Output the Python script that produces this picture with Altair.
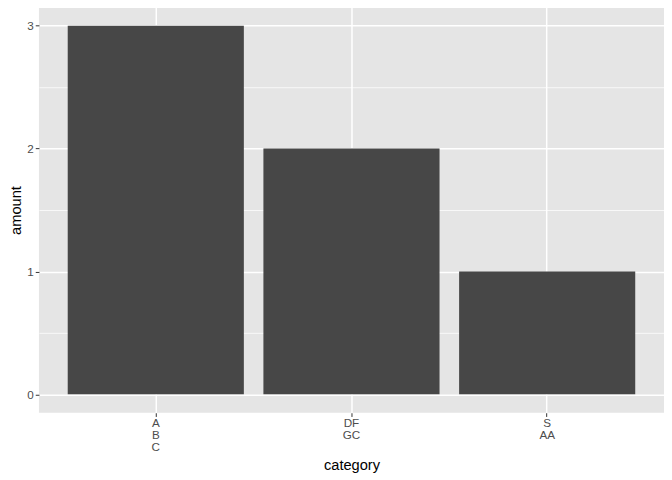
import altair as alt
import pandas as pd

categories = ["A\nB\nC", "DF\nGC", "S\nAA"]
amounts = [3, 2, 1]
y_ticks = [0, 0.5, 1, 1.5, 2, 2.5, 3]

df = pd.DataFrame({"category": categories, "amount": amounts})

FONT = "Liberation Sans"

chart = alt.Chart(df).mark_bar(color="#474747").encode(
    x=alt.X(
        "category:N",
        sort=categories,
        title="category",
        scale=alt.Scale(paddingInner=0.1, paddingOuter=0.147),
        axis=alt.Axis(
            labelAngle=0,
            labelExpr="split(datum.label, '\\n')",
            labelLineHeight=12,
            labelBaseline="top",
            labelPadding=1,
            labelFontSize=11.7,
            labelColor="#4D4D4D",
            labelFont=FONT,
            bandPosition=0.5,
            grid=True,
            gridColor="white",
            gridWidth=1.5,
            domain=False,
            tickColor="#333333",
            tickSize=3.7,
            tickWidth=1,
            titleFont=FONT,
            titleFontSize=14.67,
            titleFontWeight="normal",
            titleColor="black",
            titlePadding=4,
        ),
    ),
    y=alt.Y(
        "amount:Q",
        title="amount",
        scale=alt.Scale(domain=[-0.15, 3.15], nice=False, zero=False),
        axis=alt.Axis(
            values=y_ticks,
            labelExpr="datum.value % 1 === 0 ? format(datum.value, 'd') : ''",
            labelPadding=2,
            labelFontSize=11.7,
            labelColor="#4D4D4D",
            labelFont=FONT,
            grid=True,
            gridColor="white",
            gridWidth={"condition": {"test": "datum.value % 1 === 0", "value": 1.5}, "value": 0.75},
            domain=False,
            tickColor="#333333",
            tickSize={"condition": {"test": "datum.value % 1 === 0", "value": 3.7}, "value": 0},
            tickWidth=1,
            titleFont=FONT,
            titleFontSize=14.67,
            titleFontWeight="normal",
            titleColor="black",
            titlePadding=3,
        ),
    ),
).properties(
    width=626,
    height=406,
    padding={"left": 0, "top": -1, "right": 0, "bottom": 0},
).configure(
    background="white",
).configure_view(
    fill="#E5E5E5",
    stroke=None,
)

chart.save("out.html", embed_options={"renderer": "svg", "actions": False})
